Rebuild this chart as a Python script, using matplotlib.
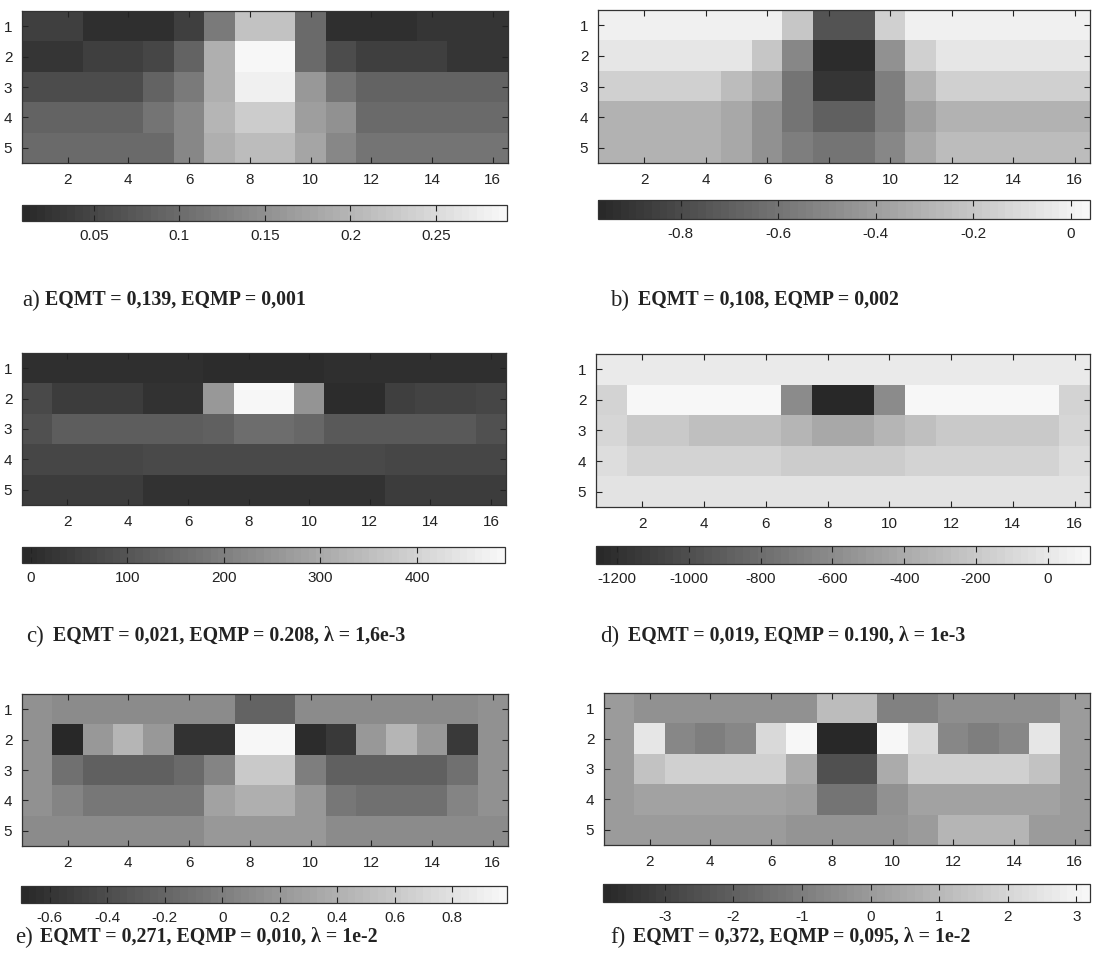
import numpy as np
import matplotlib
matplotlib.use("Agg")
import matplotlib.pyplot as plt
from matplotlib.colors import LinearSegmentedColormap

# ---------------- data ----------------
cols = list(range(1, 17))
rows = list(range(1, 6))
xticks = [2, 4, 6, 8, 10, 12, 14, 16]
yticks = [1, 2, 3, 4, 5]

panel_a = [
    [0.04, 0.04, 0.02, 0.02, 0.02, 0.04, 0.12, 0.22, 0.22, 0.10, 0.02, 0.02, 0.02, 0.03, 0.03, 0.03],
    [0.03, 0.03, 0.04, 0.04, 0.05, 0.09, 0.19, 0.29, 0.29, 0.10, 0.06, 0.04, 0.04, 0.04, 0.03, 0.03],
    [0.06, 0.06, 0.06, 0.06, 0.09, 0.12, 0.19, 0.28, 0.28, 0.16, 0.11, 0.09, 0.09, 0.09, 0.09, 0.09],
    [0.09, 0.09, 0.09, 0.09, 0.11, 0.14, 0.20, 0.23, 0.23, 0.17, 0.15, 0.10, 0.10, 0.10, 0.10, 0.10],
    [0.10, 0.10, 0.10, 0.10, 0.10, 0.14, 0.19, 0.21, 0.21, 0.18, 0.14, 0.11, 0.11, 0.11, 0.11, 0.11],
]
panel_b = [
    [0.00, 0.00, 0.00, 0.00, 0.00, 0.00, -0.20, -0.75, -0.75, -0.15, 0.00, 0.00, 0.00, 0.00, 0.00, 0.00],
    [-0.05, -0.05, -0.05, -0.05, -0.05, -0.20, -0.50, -0.95, -0.95, -0.45, -0.15, -0.05, -0.05, -0.05, -0.05, -0.05],
    [-0.15, -0.15, -0.15, -0.15, -0.25, -0.35, -0.60, -0.90, -0.90, -0.55, -0.30, -0.15, -0.15, -0.15, -0.15, -0.15],
    [-0.30, -0.30, -0.30, -0.30, -0.35, -0.45, -0.60, -0.70, -0.70, -0.55, -0.40, -0.30, -0.30, -0.30, -0.30, -0.30],
    [-0.30, -0.30, -0.30, -0.30, -0.35, -0.45, -0.55, -0.60, -0.60, -0.50, -0.35, -0.25, -0.25, -0.25, -0.25, -0.25],
]
panel_c = [
    [10, 10, 10, 10, 10, 10, 0, 0, 0, 0, 10, 10, 10, 10, 10, 10],
    [70, 45, 40, 40, 15, 15, 260, 490, 490, 250, 5, 5, 50, 55, 55, 65],
    [85, 120, 120, 120, 120, 120, 130, 160, 160, 140, 110, 110, 110, 110, 110, 85],
    [65, 65, 65, 65, 70, 70, 75, 75, 75, 75, 70, 70, 65, 65, 65, 65],
    [45, 45, 45, 45, 15, 15, 15, 15, 15, 15, 15, 15, 40, 40, 40, 40],
]
panel_d = [
    [30, 30, 30, 30, 30, 30, 30, 30, 30, 30, 30, 30, 30, 30, 30, 30],
    [-130, 110, 110, 110, 110, 110, -600, -1258, -1258, -600, 110, 110, 110, 110, 110, -130],
    [-100, -200, -200, -260, -260, -260, -330, -420, -420, -330, -260, -200, -200, -200, -200, -100],
    [-60, -120, -120, -120, -120, -120, -170, -170, -170, -170, -120, -120, -120, -120, -120, -60],
    [-30, -30, -30, -30, -30, -30, -30, -30, -30, -30, -30, -30, -30, -30, -30, -30],
]
panel_e = [
    [0.15, 0.10, 0.10, 0.10, 0.10, 0.10, 0.10, -0.20, -0.20, 0.10, 0.10, 0.10, 0.10, 0.10, 0.10, 0.15],
    [0.15, -0.68, 0.20, 0.45, 0.20, -0.60, -0.60, 0.99, 0.99, -0.65, -0.55, 0.20, 0.45, 0.20, -0.55, 0.15],
    [0.15, -0.10, -0.25, -0.25, -0.25, -0.15, 0.05, 0.60, 0.60, 0.00, -0.25, -0.25, -0.25, -0.25, -0.10, 0.15],
    [0.15, 0.05, -0.05, -0.05, -0.05, -0.05, 0.30, 0.40, 0.40, 0.20, -0.05, -0.10, -0.10, -0.10, 0.05, 0.15],
    [0.10, 0.10, 0.10, 0.10, 0.10, 0.10, 0.20, 0.20, 0.20, 0.20, 0.10, 0.10, 0.10, 0.10, 0.10, 0.10],
]
panel_f = [
    [0.0, -0.3, -0.3, -0.3, -0.3, -0.3, -0.3, 1.2, 1.2, -0.8, -0.8, -0.4, -0.4, -0.4, -0.4, 0.0],
    [0.0, 2.6, -0.6, -1.0, -0.6, 2.2, 3.2, -3.9, -3.9, 3.2, 2.2, -0.6, -1.0, -0.6, 2.6, 0.0],
    [0.0, 1.4, 1.8, 1.8, 1.8, 1.8, 0.6, -2.5, -2.5, 0.6, 1.8, 1.8, 1.8, 1.8, 1.4, 0.0],
    [0.0, 0.3, 0.3, 0.3, 0.3, 0.3, 0.1, -1.3, -1.3, -0.3, 0.3, 0.3, 0.3, 0.3, 0.3, 0.0],
    [0.0, 0.0, 0.0, 0.0, 0.0, 0.0, -0.2, -0.2, -0.2, -0.2, 0.0, 0.9, 0.9, 0.9, 0.0, 0.0],
]

ranges = {
    "a": (0.008, 0.2915), "b": (-0.97, 0.04), "c": (-9, 491),
    "d": (-1258, 117), "e": (-0.70, 0.99), "f": (-3.9, 3.2),
}
cbar_ticks = {
    "a": [0.05, 0.1, 0.15, 0.2, 0.25],
    "b": [-0.8, -0.6, -0.4, -0.2, 0],
    "c": [0, 100, 200, 300, 400],
    "d": [-1200, -1000, -800, -600, -400, -200, 0],
    "e": [-0.6, -0.4, -0.2, 0, 0.2, 0.4, 0.6, 0.8],
    "f": [-3, -2, -1, 0, 1, 2, 3],
}
cbar_labels = {
    "a": ["0.05", "0.1", "0.15", "0.2", "0.25"],
    "b": ["-0.8", "-0.6", "-0.4", "-0.2", "0"],
    "c": ["0", "100", "200", "300", "400"],
    "d": ["-1200", "-1000", "-800", "-600", "-400", "-200", "0"],
    "e": ["-0.6", "-0.4", "-0.2", "0", "0.2", "0.4", "0.6", "0.8"],
    "f": ["-3", "-2", "-1", "0", "1", "2", "3"],
}
caption_prefix = {"a": "a)", "b": "b)", "c": "c)", "d": "d)", "e": "e)", "f": "f)"}
caption_text = {
    "a": "EQMT = 0,139, EQMP = 0,001",
    "b": "EQMT = 0,108, EQMP = 0,002",
    "c": "EQMT = 0,021, EQMP = 0.208, \u03bb = 1,6e-3",
    "d": "EQMT = 0,019, EQMP = 0.190, \u03bb = 1e-3",
    "e": "EQMT = 0,271, EQMP = 0,010, \u03bb = 1e-2",
    "f": "EQMT = 0,372, EQMP = 0,095, \u03bb = 1e-2",
}
panels = {"a": panel_a, "b": panel_b, "c": panel_c, "d": panel_d, "e": panel_e, "f": panel_f}

# ---------------- layout (pixels) ----------------
W, H = 1093, 965
ax_px = {
    "a": (22, 11, 508, 163), "b": (598, 10, 1090, 163),
    "c": (22, 353, 506, 505), "d": (596, 354, 1090, 507),
    "e": (22, 694, 508, 846), "f": (604, 693, 1090, 845),
}
cb_px = {
    "a": (22, 205, 507, 221), "b": (598, 200, 1090, 219),
    "c": (22, 547, 505, 563), "d": (596, 546, 1090, 564),
    "e": (21, 886, 507, 903), "f": (603, 884, 1090, 902),
}
cap_px = {
    "a": (22, 45, 300), "b": (610, 638, 300),
    "c": (26, 53, 636), "d": (600, 628, 636),
    "e": (15, 40, 937), "f": (610, 633, 937),
}


def rect(p):
    x0, y0, x1, y1 = p
    return [x0 / W, 1 - y1 / H, (x1 - x0) / W, (y1 - y0) / H]


cmap = LinearSegmentedColormap.from_list("scan_gray", [(0.16, 0.16, 0.16), (0.97, 0.97, 0.97)], N=64)

plt.rcParams["font.family"] = ["Liberation Sans", "DejaVu Sans"]
fig = plt.figure(figsize=(W / 100, H / 100), dpi=100)
fig.patch.set_facecolor("white")

for key in "abcdef":
    data = np.array(panels[key], dtype=float)
    vmin, vmax = ranges[key]
    ax = fig.add_axes(rect(ax_px[key]))
    im = ax.imshow(data, cmap=cmap, vmin=vmin, vmax=vmax, aspect="auto",
                   extent=(0.5, len(cols) + 0.5, len(rows) + 0.5, 0.5),
                   interpolation="nearest")
    ax.set_xticks(xticks)
    ax.set_yticks(yticks)
    ax.tick_params(direction="in", top=True, right=True, length=4, width=0.8,
                   labelsize=11, colors="#222222", pad=7)
    for s in ax.spines.values():
        s.set_linewidth(0.9)
        s.set_color("#333333")

    cax = fig.add_axes(rect(cb_px[key]))
    cb = fig.colorbar(im, cax=cax, orientation="horizontal")
    cb.set_ticks(cbar_ticks[key])
    cb.set_ticklabels(cbar_labels[key])
    cax.tick_params(direction="in", top=True, bottom=True, length=4, width=0.8,
                    labelsize=11, colors="#222222", pad=6)
    cb.outline.set_linewidth(0.9)
    cb.outline.set_edgecolor("#333333")

    px, tx, cy = cap_px[key]
    fig.text(px / W, 1 - cy / H, caption_prefix[key], family=["Liberation Serif", "DejaVu Serif"],
             fontsize=16.5, va="center", ha="left", color="#222222")
    fig.text(tx / W, 1 - cy / H, caption_text[key], family=["Liberation Serif", "DejaVu Serif"],
             fontsize=14.3, fontweight="bold", va="center", ha="left", color="#222222")

fig.savefig("out.png", dpi=100, facecolor="white")
